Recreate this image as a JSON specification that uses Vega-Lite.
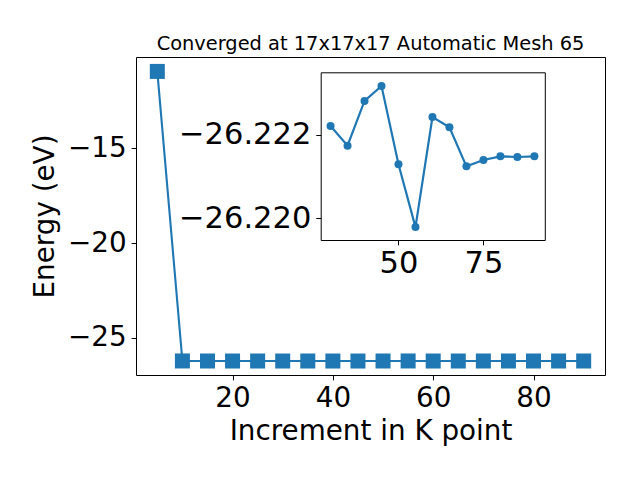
{
  "$schema": "https://vega.github.io/schema/vega-lite/v6.json",
  "width": 469,
  "height": 318,
  "autosize": {"type": "none"},
  "padding": {"left": 136, "top": 57, "right": 35, "bottom": 105},
  "background": "white",
  "config": {
    "font": "DejaVu Sans",
    "view": {"stroke": "black", "strokeWidth": 1},
    "axis": {
      "labelFont": "DejaVu Sans",
      "titleFont": "DejaVu Sans",
      "labelColor": "black",
      "titleColor": "black",
      "tickColor": "black",
      "domainColor": "black",
      "grid": false,
      "titleFontWeight": "normal",
      "labelFontSize": 27.8,
      "titleFontSize": 27.8,
      "tickSize": 4.9,
      "tickWidth": 1,
      "domainWidth": 1,
      "labelPadding": 4.9,
      "labelFlush": false,
      "labelOverlap": false
    }
  },
  "title": {
    "text": "Converged at 17x17x17 Automatic Mesh 65",
    "font": "DejaVu Sans",
    "fontSize": 19.4,
    "fontWeight": "normal",
    "color": "black",
    "anchor": "middle",
    "frame": "group",
    "baseline": "alphabetic",
    "offset": -12
  },
  "data": {
    "values": [
      {"k": 5, "E": -10.95},
      {"k": 10, "E": -26.2196},
      {"k": 15, "E": -26.2214},
      {"k": 20, "E": -26.2226},
      {"k": 25, "E": -26.2219},
      {"k": 30, "E": -26.222208},
      {"k": 35, "E": -26.221737},
      {"k": 40, "E": -26.222806},
      {"k": 45, "E": -26.223165},
      {"k": 50, "E": -26.221292},
      {"k": 55, "E": -26.219792},
      {"k": 60, "E": -26.222423},
      {"k": 65, "E": -26.222177},
      {"k": 70, "E": -26.221244},
      {"k": 75, "E": -26.221395},
      {"k": 80, "E": -26.221483},
      {"k": 85, "E": -26.221467},
      {"k": 90, "E": -26.221483}
    ]
  },
  "layer": [
    {
      "encoding": {
        "x": {
          "field": "k",
          "type": "quantitative",
          "scale": {"domain": [0.75, 94.25], "nice": false, "zero": false},
          "axis": {
            "values": [20, 40, 60, 80],
            "format": "d",
            "title": "Increment in K point",
            "domain": false,
            "titlePadding": 5
          }
        },
        "y": {
          "field": "E",
          "type": "quantitative",
          "scale": {"domain": [-26.96, -10.19], "nice": false, "zero": false},
          "axis": {
            "values": [-25, -20, -15],
            "format": "d",
            "title": "Energy (eV)",
            "domain": false,
            "titlePadding": 8
          }
        }
      },
      "layer": [
        {"mark": {"type": "line", "color": "#1f77b4", "strokeWidth": 2.1}},
        {"mark": {"type": "point", "shape": "square", "filled": true, "size": 225, "color": "#1f77b4", "opacity": 1}}
      ]
    },
    {
      "transform": [{"filter": "datum.k >= 30"}],
      "layer": [
        {
          "encoding": {
            "x": {
              "field": "k",
              "type": "quantitative",
              "scale": {"domain": [27.1, 93.07], "range": [184.7, 408.8], "nice": false, "zero": false},
              "axis": {
                "orient": "bottom",
                "offset": -135,
                "values": [50, 75],
                "format": "d",
                "title": null,
                "labelFontSize": 30.5,
                "labelPadding": 4
              }
            },
            "y": {
              "field": "E",
              "type": "quantitative",
              "scale": {"domain": [-26.223491, -26.219484], "range": [15.3, 183], "nice": false, "zero": false},
              "axis": {
                "orient": "left",
                "offset": -184.7,
                "values": [-26.222, -26.22],
                "format": ".3f",
                "title": null,
                "labelFontSize": 30.5,
                "labelPadding": 5
              }
            }
          },
          "layer": [
            {"mark": {"type": "line", "color": "#1f77b4", "strokeWidth": 2.2}},
            {"mark": {"type": "point", "shape": "circle", "filled": true, "size": 64, "color": "#1f77b4", "opacity": 1}}
          ]
        },
        {
          "mark": {"type": "line", "strokeOpacity": 0},
          "encoding": {
            "x": {
              "field": "k",
              "type": "quantitative",
              "axis": {"orient": "top", "offset": -15.3, "labels": false, "ticks": false, "title": null}
            },
            "y": {
              "field": "E",
              "type": "quantitative",
              "axis": {"orient": "right", "offset": -60.2, "labels": false, "ticks": false, "title": null}
            }
          }
        }
      ],
      "resolve": {"axis": {"x": "independent", "y": "independent"}}
    }
  ],
  "resolve": {
    "scale": {"x": "independent", "y": "independent"},
    "axis": {"x": "independent", "y": "independent"}
  }
}
